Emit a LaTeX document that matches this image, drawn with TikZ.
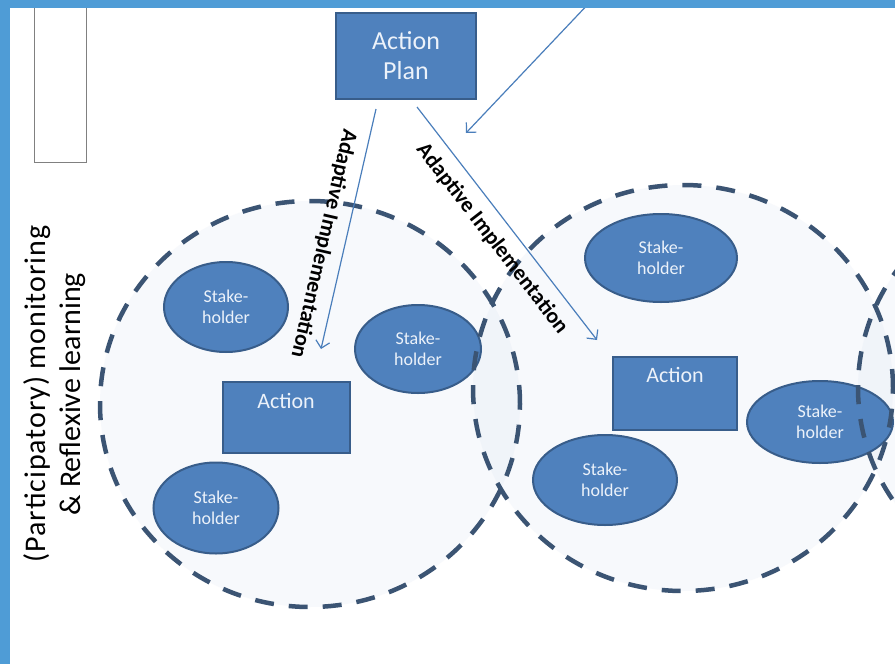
\documentclass[tikz,border=0pt]{standalone}
\usepackage{fontspec}
\setmainfont{Carlito}
\usepackage{xcolor}
\usepackage{tikz}
\usetikzlibrary{shapes.geometric,arrows.meta}

\definecolor{boxblue}{RGB}{79,129,189}
\definecolor{boxedge}{RGB}{56,93,138}
\definecolor{ringline}{RGB}{59,84,115}
\definecolor{ringfill}{RGB}{200,212,232}
\definecolor{frameblue}{RGB}{79,156,214}
\definecolor{arrowline}{RGB}{74,126,187}
\definecolor{paletext}{RGB}{236,242,250}

\begin{document}
\begin{tikzpicture}[x=1pt, y=-1pt,
        stake/.style={ellipse, draw=boxedge, fill=boxblue, line width=2pt, align=center, text=paletext, font=\fontsize{18}{21}\selectfont},
        actbox/.style={draw=boxedge, fill=boxblue, line width=2pt, align=center, text=paletext, inner ysep=0pt},
        ring/.style={draw=ringline, line width=4.5pt, dash pattern=on 19pt off 15pt},
        ringbg/.style={fill=ringfill, fill opacity=0.13},
        arrow/.style={-{Straight Barb[length=7pt, width=14pt]}, draw=arrowline, line width=1.2pt},
        lbl/.style={font=\bfseries\fontsize{22}{22}\selectfont, sloped, allow upside down, inner sep=2pt}
    ]
        \fill[white] (0,0) rectangle (895,664);
        \useasboundingbox (0,0) rectangle (895,664);
        \clip (0,0) rectangle (895,664);

        \fill[ringbg] (310,404) ellipse [x radius=210pt, y radius=203pt];
        \fill[ringbg] (683,388) ellipse [x radius=210pt, y radius=203pt];
        \fill[ringbg] (1068,388) ellipse [x radius=210pt, y radius=203pt];

        \node[draw=gray, line width=1.3pt, minimum width=52pt, minimum height=180pt, anchor=south west] (memo) at (34,163) {};

        \node[rotate=90, align=center, font=\fontsize{30}{35}\selectfont] (reflect) at (55,394)
            {{\addfontfeatures{LetterSpace=3}(Participatory) monitoring}\\\& Reflexive learning};

        \node[actbox, minimum width=140pt, minimum height=86pt, font=\fontsize{26}{30}\selectfont] (plan) at (406,56) {Action\\Plan};
        \node[actbox, minimum width=127pt, text height=27pt, text depth=44pt, font=\fontsize{22}{22}\selectfont] (act1) at (286,417) {Action};
        \node[actbox, minimum width=124pt, text height=26pt, text depth=47pt, font=\fontsize{22}{22}\selectfont] (act2) at (675,393) {Action};

        \node[stake, minimum width=124pt, minimum height=90pt] (sh1) at (226,307) {Stake-\\holder};
        \node[stake, minimum width=126pt, minimum height=88pt] (sh2) at (418,349) {Stake-\\holder};
        \node[stake, minimum width=125pt, minimum height=91pt] (sh3) at (216,508) {Stake-\\holder};
        \node[stake, minimum width=152pt, minimum height=88pt] (sh4) at (661,258) {Stake-\\holder};
        \node[stake, minimum width=146pt, minimum height=82pt] (sh5) at (820,422) {Stake-\\holder};
        \node[stake, minimum width=144pt, minimum height=90pt] (sh6) at (605,480) {Stake-\\holder};

        \draw[ring] (310,404) ellipse [x radius=210pt, y radius=203pt];
        \draw[ring] (683,388) ellipse [x radius=210pt, y radius=203pt];
        \draw[ring] (1068,388) ellipse [x radius=210pt, y radius=203pt];

        \coordinate (aim1) at (321,349);
        \coordinate (aim2) at (597,340);
        \coordinate (source) at (592,0);
        \coordinate (inflow) at (466,133);

        \draw[arrow] ([shift={(-30,9)}]plan.south) -- node[lbl, pos=0.58, below=9pt] {Adaptive Implementation} (aim1);
        \draw[arrow] ([shift={(11,7)}]plan.south) -- node[lbl, pos=0.51, below=9pt] {Adaptive Implementation} (aim2);
        \draw[arrow] (source) -- (inflow);

        \fill[frameblue] (0,0) rectangle (10,664);
        \fill[frameblue] (0,0) rectangle (895,8);
    \end{tikzpicture}
\end{document}
